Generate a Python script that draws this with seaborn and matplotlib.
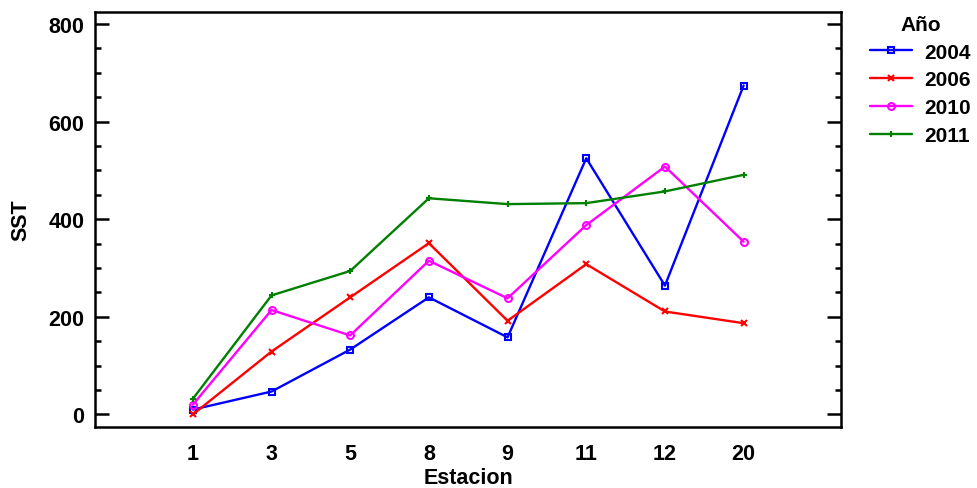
import seaborn as sns
import matplotlib.pyplot as plt
import pandas as pd
from matplotlib.ticker import MultipleLocator

sns.set_style("white")
plt.rcParams['font.family'] = ['Liberation Sans', 'DejaVu Sans']
plt.rcParams['font.weight'] = 'bold'
plt.rcParams['text.color'] = 'black'
plt.rcParams['axes.labelcolor'] = 'black'
plt.rcParams['xtick.color'] = 'black'
plt.rcParams['ytick.color'] = 'black'

# stations (categorical x) and SST per year
estaciones = ["1", "3", "5", "8", "9", "11", "12", "20"]
sst_2004 = [10, 47, 133, 240, 158, 525, 264, 674]
sst_2006 = [0, 129, 240, 351, 192, 308, 211, 187]
sst_2010 = [20, 214, 162, 315, 238, 388, 508, 354]
sst_2011 = [32, 244, 294, 443, 431, 433, 457, 491]

series = {"2004": sst_2004, "2006": sst_2006, "2010": sst_2010, "2011": sst_2011}
colors = {"2004": "#0000ff", "2006": "#ff0000", "2010": "#ff00ff", "2011": "#008000"}
markers = {"2004": "s", "2006": "x", "2010": "o", "2011": "+"}

rows = []
for year, vals in series.items():
    for est, v in zip(estaciones, vals):
        rows.append({"Estacion": est, "SST": v, "Año": year})
df = pd.DataFrame(rows)

fig = plt.figure(figsize=(9.77, 4.89), dpi=100)
ax = fig.add_axes([0.0975, 0.1254, 0.861 - 0.0975, 0.9728 - 0.1254])

for year in series:
    sub = df[df["Año"] == year]
    sns.lineplot(data=sub, x="Estacion", y="SST", ax=ax, sort=False,
                 color=colors[year], marker=markers[year], markersize=5,
                 markerfacecolor="none", markeredgecolor=colors[year],
                 markeredgewidth=1.5, linewidth=1.7, label=year)

ax.set_xlim(-1.24, len(estaciones) - 1 + 1.24)
ax.set_ylim(-25, 824)
ax.yaxis.set_major_locator(MultipleLocator(200))
ax.yaxis.set_minor_locator(MultipleLocator(50))
ax.tick_params(axis="y", which="major", direction="in", length=10, width=1.8,
               left=True, right=True, labelsize=15.5, pad=8)
ax.tick_params(axis="y", which="minor", direction="in", length=4.5, width=1.8,
               left=True, right=True)
ax.tick_params(axis="x", length=0, labelsize=15.5, pad=12)
for lab in ax.get_xticklabels() + ax.get_yticklabels():
    lab.set_fontweight("bold")
for s in ax.spines.values():
    s.set_linewidth(1.8)
    s.set_color("black")

ax.set_xlabel("Estacion", fontsize=15.5, fontweight="bold", labelpad=2)
ax.set_ylabel("SST", fontsize=15.5, fontweight="bold", labelpad=12)

leg = ax.legend(title="Año", loc="upper left",
                bbox_to_anchor=(870 / 977, 1 - 16 / 489),
                bbox_transform=fig.transFigure, frameon=False,
                fontsize=15, title_fontsize=15, borderaxespad=0,
                handlelength=2.0, handletextpad=0.6, labelspacing=0.42,
                borderpad=0)
leg.get_title().set_fontweight("bold")
for t in leg.get_texts():
    t.set_fontweight("bold")

fig.savefig("out.png", dpi=100)
